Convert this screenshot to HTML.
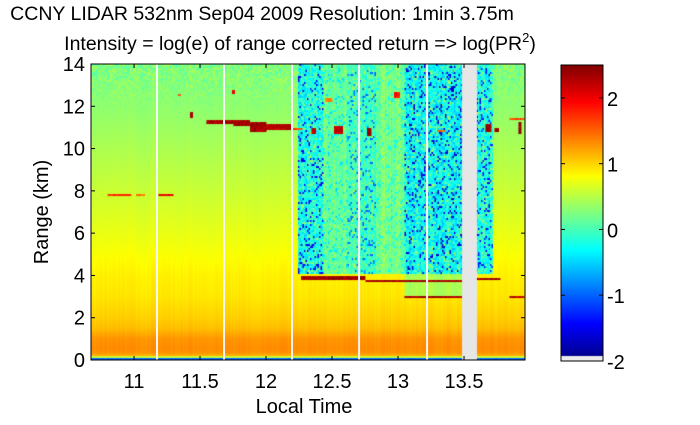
<!DOCTYPE html>
<html><head><meta charset="utf-8">
<style>
body{margin:0;background:#fff;width:700px;height:420px;overflow:hidden;font-family:"Liberation Sans",sans-serif;}
svg text{font-family:"Liberation Sans",sans-serif;}
</style></head>
<body>
<svg id="chart" width="700" height="420" xmlns="http://www.w3.org/2000/svg">
<text x="262" y="20" font-size="19.5" text-anchor="middle">CCNY LIDAR 532nm Sep04 2009 Resolution: 1min 3.75m</text>
<text x="300" y="50" font-size="19.5" text-anchor="middle">Intensity = log(e) of range corrected return =&gt; log(PR<tspan dy="-8" font-size="13">2</tspan><tspan dy="8">)</tspan></text>
<foreignObject x="91" y="64" width="434" height="296">
<canvas id="hm" width="434" height="296" xmlns="http://www.w3.org/1999/xhtml" style="display:block"></canvas>
</foreignObject>
<g id="overlay"></g>
<foreignObject x="561" y="65" width="42" height="296">
<canvas id="cb" width="42" height="296" xmlns="http://www.w3.org/1999/xhtml" style="display:block"></canvas>
</foreignObject>
<rect x="561" y="65" width="42" height="296" fill="none" stroke="#000" stroke-width="1"/>
<rect x="91" y="64" width="434" height="296" fill="none" stroke="#000" stroke-width="1"/>
<g id="axes"></g>
<text x="304" y="413" font-size="20" text-anchor="middle">Local Time</text>
<text transform="translate(48,212) rotate(-90)" font-size="20" text-anchor="middle">Range (km)</text>
</svg>
<script>
// ---- data ----
const xTicks = [11, 11.5, 12, 12.5, 13, 13.5];
const xTickLabels = ["11", "11.5", "12", "12.5", "13", "13.5"];
const yTicks = [0, 2, 4, 6, 8, 10, 12, 14];
const cbTicks = [2, 1, 0, -1, -2];
const profileAlt = [0, 0.08, 0.15, 0.25, 0.5, 1.0, 1.5, 2, 3, 4, 6, 8, 10, 12, 14];
const profileVal = [-1.9, -0.4, 0.7, 1.25, 1.32, 1.28, 1.1, 1.02, 0.92, 0.87, 0.72, 0.58, 0.45, 0.32, 0.25];
// noisy segments: [tStart, tEnd, meanValue, noiseAmp]
const noisySeg = [[12.24,12.43,-0.2,0.7],[12.43,12.62,0.15,0.3],[12.62,12.83,-0.05,0.5],[12.83,13.05,0.2,0.25],[13.05,13.49,-0.25,0.75],[13.6,13.72,-0.2,0.65]];
// cloud layers: [tStart, tEnd, altKm, thicknessKm, value]
const clouds = [
 [10.80,10.98,7.8,0.12,1.9],[11.02,11.08,7.8,0.1,1.6],[11.18,11.30,7.78,0.12,2.2],
 [11.42,11.45,11.6,0.25,2.5],[11.74,11.77,12.7,0.15,2.2],[11.33,11.36,12.5,0.1,1.7],
 [11.55,11.75,11.25,0.12,2.5],[11.75,11.88,11.2,0.25,2.5],[11.88,12.0,11.05,0.5,2.5],[12.0,12.2,11.0,0.3,2.4],[12.2,12.28,10.95,0.1,1.8],
 [12.34,12.38,10.85,0.3,2.3],[12.52,12.58,10.9,0.4,2.3],[12.76,12.8,10.8,0.4,2.5],[12.97,13.02,12.5,0.3,2.0],[12.45,12.5,12.3,0.2,1.5],
 [13.3,13.36,10.8,0.12,1.6],[13.66,13.71,11.0,0.4,2.5],[13.73,13.76,10.85,0.2,2.5],[13.91,13.94,11.0,0.6,2.5],[13.84,13.96,11.4,0.15,1.8],
 [12.26,12.75,3.9,0.15,2.5],[12.75,13.49,3.77,0.12,2.5],[13.6,13.78,3.85,0.14,2.5],
 [13.05,13.49,2.95,0.08,2.5],[13.85,13.96,2.95,0.07,2.4]
];
const whiteLines = [11.174, 11.682, 12.197, 12.705, 13.22];
const gapStart = 13.485, gapEnd = 13.598;
// ---- scales ----
const X0=91, X1=525, Y0=64, Y1=360;
const tMin=10.674, tMax=13.962, rMin=0, rMax=14;
const xs = t => X0 + (t - tMin)/(tMax - tMin)*(X1-X0);
const ys = r => Y1 - (r - rMin)/(rMax - rMin)*(Y1-Y0);
const cMin=-2, cMax=2.5;
function jet(v){
  let f=(v-cMin)/(cMax-cMin); f=Math.max(0,Math.min(1,f));
  const c=x=>Math.max(0,Math.min(1,x));
  const r=c(1.5-Math.abs(4*f-3)), g=c(1.5-Math.abs(4*f-2)), b=c(1.5-Math.abs(4*f-1));
  return [r*255|0,g*255|0,b*255|0];
}
function interp(a, xs_, ys_){
  if(a<=xs_[0]) return ys_[0];
  for(let i=1;i<xs_.length;i++) if(a<=xs_[i]){const k=(a-xs_[i-1])/(xs_[i]-xs_[i-1]);return ys_[i-1]+k*(ys_[i]-ys_[i-1]);}
  return ys_[ys_.length-1];
}
function hash(a,b){let h=(a*374761393+b*668265263)|0;h=(h^(h>>>13))*1274126177|0;return ((h^(h>>>16))>>>0)/4294967296;}
// ---- heatmap ----
const cv=document.getElementById('hm'), ctx=cv.getContext('2d');
const W=434,H=296, CW=1.5, CH=2;
const nx=Math.ceil(W/CW), ny=Math.ceil(H/CH);
for(let i=0;i<nx;i++){
  const t=tMin+(i+0.5)*CW/W*(tMax-tMin);
  let seg=null; for(const s of noisySeg) if(t>=s[0]&&t<s[1]) seg=s;
  const colJit=(hash(i,999)-0.5)*0.12;
  for(let j=0;j<ny;j++){
    const r=rMax-(j+0.5)*CH/H*(rMax-rMin);
    let v=interp(r,profileAlt,profileVal)+colJit*0.5;
    if(r>11.5) v+= (hash(i,j)-0.5)*0.5*(r-11.5)/2.5;
    if(seg && r>4.05){
      const a=hash(i,j);
      let n=(a-0.5)*0.8;
      if(a>0.88) n=-1.4; else if(a<0.08) n=0.6;
      v=seg[2]+n*seg[3]*1.3+colJit*2;
    } else if(seg && r>3.0 && r<=4.05 && t>13.05 && t<13.49){ v=0.45+colJit; }
    for(const c of clouds){ if(t>=c[0]&&t<=c[1]&&Math.abs(r-c[2])<=c[3]/2) v=c[4]-hash(i,j)*0.3; }
    const [R,G,B]=jet(v); ctx.fillStyle=`rgb(${R},${G},${B})`;
    ctx.fillRect(i*CW,j*CH,CW+0.6,CH+0.6);
  }
}
ctx.fillStyle='#e6e6e6'; ctx.fillRect(xs(gapStart)-X0,0,xs(gapEnd)-xs(gapStart),H);
const ov=document.getElementById('overlay'); const NS='http://www.w3.org/2000/svg';
whiteLines.forEach(t=>{
  const l=document.createElementNS(NS,'rect');
  l.setAttribute('x',xs(t)-1); l.setAttribute('y',Y0); l.setAttribute('width',2); l.setAttribute('height',Y1-Y0); l.setAttribute('fill','#f4f4f4');
  
  
  ov.appendChild(l);
});
const cb=document.getElementById('cb').getContext('2d');
for(let y=0;y<296;y++){const v=cMax-(y+0.5)/296*(cMax-cMin);const [R,G,B]=jet(v);cb.fillStyle=`rgb(${R},${G},${B})`;cb.fillRect(0,y,42,1);}
cb.fillStyle='#ececec'; cb.fillRect(0,291,42,5);
const ax=document.getElementById('axes');
function line(x1,y1,x2,y2,name){const l=document.createElementNS(NS,'line');l.setAttribute('x1',x1);l.setAttribute('y1',y1);l.setAttribute('x2',x2);l.setAttribute('y2',y2);l.setAttribute('stroke','#000');
 
 
 ax.appendChild(l);}
function text(x,y,s,anchor,name){const t=document.createElementNS(NS,'text');t.setAttribute('x',x);t.setAttribute('y',y);t.setAttribute('font-size','20');t.setAttribute('text-anchor',anchor);t.textContent=s;
 
 
 ax.appendChild(t);}
xTicks.forEach((v,i)=>{const x=xs(v);line(x,Y1,x,Y1-4,'x-tick');line(x,Y0,x,Y0+4,'x-tick');text(x,388,xTickLabels[i],'middle','x-tick-label');});
yTicks.forEach(v=>{const y=ys(v);line(X0,y,X0+4,y,'y-tick');line(X1,y,X1-4,y,'y-tick');text(85,y+7,String(v),'end','y-tick-label');});
const cbY=v=>65+(cMax-v)/(cMax-cMin)*296;
cbTicks.forEach(v=>{const y=cbY(v);line(603,y,599,y,'colorbar-tick');line(561,y,565,y,'colorbar-tick');text(607,y+8,String(v),'start','colorbar-tick-label');});
</script>
</body></html>
